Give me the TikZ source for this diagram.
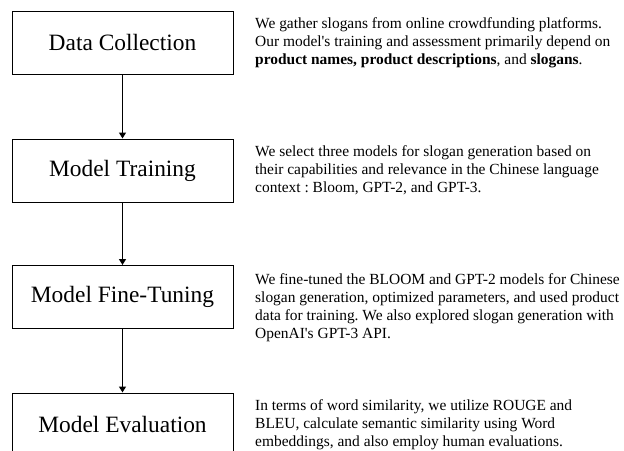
\documentclass[tikz,border=0pt]{standalone}
\usepackage{fontspec}
\setmainfont{Liberation Serif}[Ligatures=TeXOff]
\usetikzlibrary{arrows.meta}
\frenchspacing

\begin{document}
\begin{tikzpicture}[x=1pt, y=-1pt,
    stage/.style={draw, line width=1pt, minimum width=221pt, minimum height=63pt,
      inner sep=0pt, font=\fontsize{23.4}{28}\selectfont},
    note/.style={anchor=west, inner sep=0pt, align=left,
      font=\fontsize{15.45}{18}\selectfont},
    flow/.style={-{Triangle[width=7pt, length=6pt]}, line width=1.4pt}]
    \useasboundingbox (0,0) rectangle (624,450);
    % left column: the four steps
    \node[stage] (dc) at (122.5, 42.5) {Data Collection};
    \node[stage] (mt) at (122.5, 170.5) {Model Training};
    \node[stage] (mf) at (122.5, 297) {Model Fine-Tuning};
    \node[stage] (me) at (122.5, 424.5) {Model Evaluation};
    \draw[flow] (dc) -- (mt);
    \draw[flow] (mt) -- (mf);
    \draw[flow] (mf) -- (me);
    % right column: what each step does
    \node[note] (dcnote) at (255, 42.5)
      {We gather slogans from online crowdfunding platforms.\\
      Our model's training and assessment primarily depend on\\
      \textbf{product names, product descriptions}, and \textbf{slogans}.};
    \node[note] (mtnote) at (255, 170.5)
      {We select three models for slogan generation based on\\
      their capabilities and relevance in the Chinese language\\
      context : Bloom, GPT-2, and GPT-3.};
    \node[note] (mfnote) at (255, 308)
      {We fine-tuned the BLOOM and GPT-2 models for Chinese\\
      slogan generation, optimized parameters, and used product\\
      data for training. We also explored slogan generation with\\
      OpenAI's GPT-3 API.};
    \node[note] (menote) at (255, 425)
      {In terms of word similarity, we utilize ROUGE and\\
      BLEU, calculate semantic similarity using Word\\
      embeddings, and also employ human evaluations.};
  \end{tikzpicture}
\end{document}
